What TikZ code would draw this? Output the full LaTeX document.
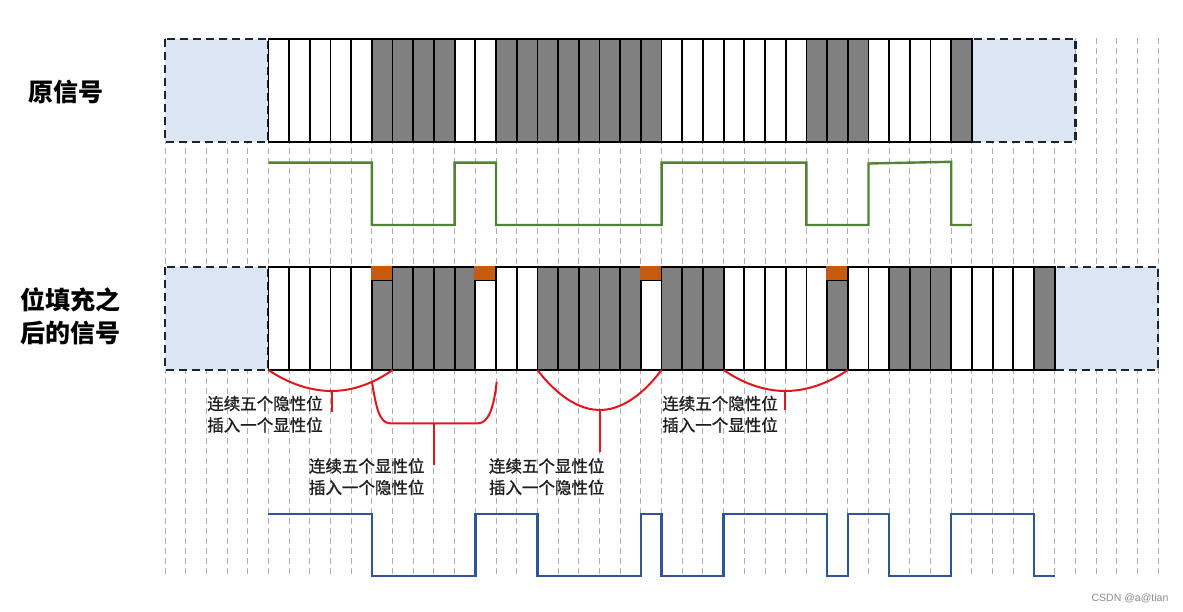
\documentclass[tikz,border=0pt]{standalone}
\usepackage{fontspec}
\newfontfamily\cjk{Noto Sans CJK SC}
\newfontfamily\cjkann[FakeBold=1.2]{Noto Sans CJK SC}
\newfontfamily\wmfont{Liberation Sans}
\definecolor{bitgray}{RGB}{128,128,128}
\definecolor{padblue}{RGB}{219,229,243}
\definecolor{stuffor}{RGB}{197,90,17}
\definecolor{sigGreen}{RGB}{84,130,53}
\definecolor{sigBlue}{RGB}{47,85,151}
\definecolor{annRed}{RGB}{222,24,30}
\definecolor{gridgray}{RGB}{175,175,175}
\definecolor{boxedge}{RGB}{30,36,44}
\def\bw{20.69}
\begin{document}
\begin{tikzpicture}[x=1pt,y=-1pt,
  gridline/.style={draw=gridgray,line width=1pt,dash pattern=on 6pt off 4pt},
  padbox/.style={fill=padblue,draw=boxedge,line width=2.4pt,dash pattern=on 8pt off 5pt},
  cellbox/.style={draw=black,line width=1.8pt},
  greenwave/.style={draw=sigGreen,line width=2.4pt,line join=miter},
  bluewave/.style={draw=sigBlue,line width=2.4pt,line join=miter},
  redmark/.style={draw=annRed,line width=2pt},
  ann/.style={font=\cjkann\fontsize{16.5}{21.5}\selectfont,text=black!88,align=left,inner sep=0pt},
  rowlabel/.style={font=\cjk\bfseries\fontsize{25}{33}\selectfont,text=black,align=left,inner sep=0pt}]
\useasboundingbox (0,0) rectangle (1183,612);
\fill[white] (0,0) rectangle (1183,612);
% grid
\foreach \k in {0,...,48}{
  \draw[gridline] ({165+\k*\bw},38) -- ({165+\k*\bw},578);
}
% padding boxes
\draw[padbox] (165,39) rectangle ({165+5*\bw},142);
\draw[padbox] ({165+39*\bw},39) rectangle ({165+44*\bw},142);
\draw[padbox] (165,267) rectangle ({165+5*\bw},370);
\draw[padbox] ({165+43*\bw},267) rectangle ({165+48*\bw},370);
% original bits
\foreach \c [count=\i from 5] in {0,0,0,0,0,1,1,1,1,0,0,1,1,1,1,1,1,1,1,0,0,0,0,0,0,0,1,1,1,0,0,0,0,1}{
  \pgfmathsetmacro{\xa}{165+\i*\bw}
  \pgfmathsetmacro{\xb}{165+(\i+1)*\bw}
  \ifcase\c \def\cc{white}\or \def\cc{bitgray}\fi
  \draw[cellbox,fill=\cc] (\xa,39) rectangle (\xb,142);
}
% stuffed bits
\foreach \c [count=\i from 5] in {0,0,0,0,0,2,1,1,1,1,3,0,0,1,1,1,1,1,3,1,1,1,0,0,0,0,0,2,0,0,1,1,1,0,0,0,0,1}{
  \pgfmathsetmacro{\xa}{165+\i*\bw}
  \pgfmathsetmacro{\xb}{165+(\i+1)*\bw}
  \ifcase\c \def\cc{white}\or \def\cc{bitgray}\or \def\cc{bitgray}\or \def\cc{white}\fi
  \draw[cellbox,fill=\cc] (\xa,267) rectangle (\xb,370);
  \ifnum\c>1
    \fill[stuffor] ({\xa-0.9},266.1) rectangle ({\xb+0.9},280);
    \draw[cellbox] ({\xa-0.9},280.5) -- ({\xb+0.9},280.5);
  \fi
}
% original signal waveform
\draw[greenwave] ({165+5*\bw},162.7) -- ({165+10*\bw},162.7) -- ({165+10*\bw},225)
  -- ({165+14*\bw},225) -- ({165+14*\bw},162.7) -- ({165+16*\bw},162.7)
  -- ({165+16*\bw},225) -- ({165+24*\bw},225) -- ({165+24*\bw},162.7)
  -- ({165+31*\bw},162.7) -- ({165+31*\bw},225) -- ({165+34*\bw},225)
  -- ({165+34*\bw},163.5) -- ({165+38*\bw},161.8) -- ({165+38*\bw},225)
  -- ({165+39*\bw},225);
% stuffed signal waveform
\draw[bluewave] ({165+5*\bw},514) -- ({165+10*\bw},514) -- ({165+10*\bw},576)
  -- ({165+15*\bw},576) -- ({165+15*\bw},514) -- ({165+18*\bw},514)
  -- ({165+18*\bw},576) -- ({165+23*\bw},576) -- ({165+23*\bw},514)
  -- ({165+24*\bw},514) -- ({165+24*\bw},576) -- ({165+27*\bw},576)
  -- ({165+27*\bw},514) -- ({165+32*\bw},514) -- ({165+32*\bw},576)
  -- ({165+33*\bw},576) -- ({165+33*\bw},514) -- ({165+35*\bw},514)
  -- ({165+35*\bw},576) -- ({165+38*\bw},576) -- ({165+38*\bw},514)
  -- ({165+42*\bw},514) -- ({165+42*\bw},576) -- ({165+43*\bw},576);
% red annotations
\coordinate (a1) at (331.7,391);
\draw[redmark] ({165+5*\bw},370) parabola bend (a1) ({165+11*\bw},370);
\draw[redmark] (a1) -- (331.7,412);
\coordinate (b1) at (434.3,423.3);
\draw[redmark] (371.9,381.7) .. controls (376,406) and (379,423.3) .. (390,423.3)
  -- (478,423.3) .. controls (489,423.3) and (494,406) .. (496.7,381.7);
\draw[redmark] (b1) -- (434.3,465);
\coordinate (c1) at (600,410);
\draw[redmark] ({165+18*\bw},370) parabola bend (c1) ({165+24*\bw},370);
\draw[redmark] (c1) -- (600,452);
\coordinate (d1) at (785.4,391);
\draw[redmark] ({165+27*\bw},370) parabola bend (d1) ({165+33*\bw},370);
\draw[redmark] (d1) -- (785.4,410);
% texts
\node[rowlabel] (lab1) at (66,92) {原信号};
\node[rowlabel] (lab2) at (70,316.5) {位填充之\\后的信号};
\node[ann] (t1) at (265,414.2) {连续五个隐性位\\插入一个显性位};
\node[ann] (t2) at (366.7,476.7) {连续五个显性位\\插入一个隐性位};
\node[ann] (t3) at (546.7,476.7) {连续五个显性位\\插入一个隐性位};
\node[ann] (t4) at (720,414.2) {连续五个隐性位\\插入一个显性位};
\node[font=\wmfont\fontsize{10.5}{12}\selectfont,text=black!45,inner sep=0pt] (wm) at (1130,598) {CSDN @a@tian};
\end{tikzpicture}
\end{document}
